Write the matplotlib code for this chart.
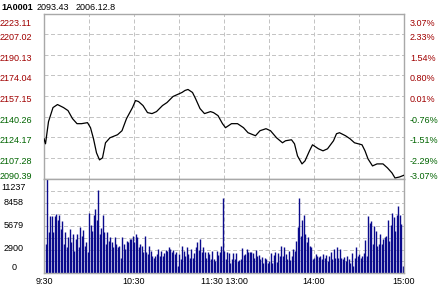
import numpy as np
import matplotlib
matplotlib.use('Agg')
import matplotlib.pyplot as plt
from matplotlib.transforms import blended_transform_factory, offset_copy

plt.rcParams['font.family'] = ['Liberation Sans', 'DejaVu Sans']

# header
code = '1A0001'
last_price = '2093.43'
date = '2006.12.8'
prev_close = 2156.90

# price axis labels (left) and percent labels (right)
price_levels = [2223.11, 2207.02, 2190.13, 2174.04, 2157.15, 2140.26, 2124.17, 2107.28, 2090.39]
pct_labels = ['3.07%', '2.33%', '1.54%', '0.80%', '0.01%', '-0.76%', '-1.51%', '-2.29%', '-3.07%']

# price line, trading minutes after 9:30 (120 = 11:30/13:00)
price_t = [0, 1, 3, 6, 9, 13, 16, 19, 22, 25,
           29, 31, 33, 35, 37, 39, 41, 44, 49, 52,
           55, 59, 61, 63, 66, 69, 72, 75, 79, 82,
           86, 89, 92, 94, 96, 99, 101, 104, 107, 111,
           113, 116, 119, 121, 125, 129, 133, 136, 141, 144,
           148, 151, 155, 159, 161, 165, 167, 169, 172, 174,
           177, 179, 183, 186, 189, 193, 195, 197, 201, 204,
           207, 212, 214, 216, 219, 222, 226, 229, 232, 234,
           237, 240]
price_v = [2122.76, 2118.71, 2136.52, 2147.85, 2150.28, 2147.85, 2145.42, 2138.95, 2134.90, 2134.90,
           2135.71, 2131.66, 2122.76, 2111.43, 2105.77, 2107.38, 2119.52, 2123.57, 2125.99, 2129.23,
           2138.95, 2147.85, 2153.51, 2152.70, 2149.47, 2143.80, 2142.99, 2144.61, 2149.47, 2151.89,
           2156.75, 2158.37, 2160.00, 2161.61, 2162.41, 2159.99, 2155.13, 2147.04, 2142.99, 2144.61,
           2143.80, 2141.37, 2134.90, 2131.66, 2134.90, 2134.90, 2131.66, 2127.62, 2125.19, 2129.23,
           2130.85, 2129.23, 2123.57, 2119.52, 2121.14, 2121.95, 2118.71, 2109.00, 2102.53, 2104.96,
           2113.05, 2117.90, 2114.67, 2113.05, 2114.67, 2121.14, 2126.81, 2127.62, 2125.19, 2122.76,
           2119.52, 2117.90, 2113.05, 2106.58, 2100.91, 2102.53, 2102.53, 2099.29, 2095.25, 2091.20,
           2092.01, 2093.43]

# volume per minute
vol_am = [3460, 11237, 4870, 6800, 6800, 4870, 6800, 7090, 6280, 6970,
          5280, 6160, 3460, 4950, 3060, 4270, 5280, 3660, 4670, 2660,
          4070, 4670, 3060, 5480, 4470, 5200, 3260, 3660, 2460, 7210,
          5680, 5080, 6970, 7690, 6280, 9910, 4670, 5360, 6970, 4870,
          3460, 4870, 3790, 4270, 3660, 3060, 4270, 3460, 3060, 3260,
          1850, 4270, 3460, 2860, 3870, 3660, 4070, 4070, 4470, 3660,
          4670, 4270, 3060, 3460, 3260, 2460, 4390, 2460, 2260, 3260,
          2660, 2050, 1850, 2050, 2260, 2860, 2050, 2660, 2050, 2380,
          2780, 2660, 3060, 2860, 2460, 2780, 2260, 2540, 850, 2260,
          1650, 3260, 2660, 2050, 3060, 2260, 1850, 2860, 1850, 2380,
          3060, 3660, 2780, 4070, 2460, 3060, 2460, 1850, 2460, 2260,
          1650, 2660, 1650, 1450, 2660, 2130, 2570, 3180, 8940]
vol_pm = [2660, 1650, 2540, 2380, 1250, 1650, 2380, 1650, 2380, 1450,
          1570, 1650, 2940, 2130, 2260, 2860, 2460, 2540, 2460, 2380,
          1850, 2780, 2050, 2130, 1730, 1970, 1250, 1850, 1650, 1250,
          1450, 2380, 1170, 2130, 2540, 1330, 2380, 2050, 3180, 2050,
          3060, 2260, 1650, 2660, 1570, 2050, 2860, 2660, 3870, 5480,
          8980, 4470, 6280, 6890, 4670, 3660, 4270, 3260, 3060, 1650,
          1850, 2260, 2050, 1970, 2050, 1650, 2260, 1850, 2130, 1450,
          2050, 2540, 1650, 2860, 1850, 3060, 1850, 2860, 1850, 1650,
          1970, 1450, 2050, 1730, 1250, 2380, 850, 1850, 3060, 2050,
          2260, 1850, 2050, 2380, 3990, 2050, 6800, 6000, 6160, 3460,
          5600, 5080, 3260, 3460, 4670, 3460, 4070, 4270, 4470, 6280,
          3870, 5760, 7210, 6690, 5080, 6890, 8000, 6970, 5880, 850]
vol_levels = [11237, 8458, 5679, 2900, 0]

time_pos = [0, 60, 120, 180, 240]
time_labels = ['9:30', '10:30', '11:30 13:00', '14:00', '15:00']

W, H = 446, 285
fig = plt.figure(figsize=(W / 100, H / 100), dpi=100)
fig.patch.set_facecolor('white')

def box(x0, y0, x1, y1):
    return [x0 / W, 1 - y1 / H, (x1 - x0) / W, (y1 - y0) / H]

ax_p = fig.add_axes(box(44, 14, 404, 179))
ax_v = fig.add_axes(box(44, 179, 404, 273))

grid_c = '#c4c4c4'
dash = (0, (4, 2.5))
fs = 6.5
red = '#a00000'
green = '#006400'

for ax in (ax_p, ax_v):
    ax.set_xlim(0, 240)
    ax.set_xticks([])
    ax.set_yticks([])
    for s in ax.spines.values():
        s.set_color('#a8a8a8')
        s.set_linewidth(1)
    for m in range(30, 240, 30):
        ax.axvline(m, color=grid_c, ls=dash, lw=0.72, zorder=0)

# price panel
ax_p.set_ylim(price_levels[-1], price_levels[0])
for lv in price_levels[1:-1]:
    ax_p.axhline(lv, color=grid_c, ls=dash, lw=0.72, zorder=0)
ax_p.plot(price_t, price_v, color='black', lw=0.9, zorder=3)

trans_l = blended_transform_factory(fig.transFigure, ax_p.transData)
n = len(price_levels)
for i, (lv, pc) in enumerate(zip(price_levels, pct_labels)):
    c = red if lv >= prev_close else green
    dy = -3
    if i == 0:
        dy = -10
    elif i == n - 1:
        dy = 2
    tr = offset_copy(trans_l, fig=fig, y=dy * 0.72, units='points')
    fig.text(16 / W, lv, f'{lv:.2f}', transform=tr, ha='center', va='center',
             fontsize=fs, color=c)
    fig.text(410 / W, lv, pc, transform=tr, ha='left', va='center',
             fontsize=fs, color=c)

# volume panel
vol = vol_am + vol_pm
ax_v.set_ylim(0, vol_levels[0])
for lv in np.linspace(0, vol_levels[0], 9)[1:-1]:
    ax_v.axhline(lv, color=grid_c, ls=dash, lw=0.72, zorder=0)
ax_v.vlines(np.arange(1, len(vol) + 1), 0, vol, color='#0a0a8c', lw=1.0,
            zorder=2, capstyle='butt')

trans_v = blended_transform_factory(fig.transFigure, ax_v.transData)
for i, lv in enumerate(vol_levels):
    dy = 0
    if i == 0:
        dy = -8
    elif i == len(vol_levels) - 1:
        dy = 5
    tr = offset_copy(trans_v, fig=fig, y=dy * 0.72, units='points')
    fig.text(14 / W, lv, str(lv), transform=tr, ha='center', va='center',
             fontsize=fs, color='black')

trans_t = blended_transform_factory(ax_v.transData, fig.transFigure)
for m, lab in zip(time_pos, time_labels):
    fig.text(m, 1 - 281 / H, lab, transform=trans_t, ha='center', va='center',
             fontsize=fs, color='black')

# header
fig.text(1 / W, 1 - 7 / H, code, fontsize=fs, fontweight='bold', va='center')
fig.text(37 / W, 1 - 7 / H, last_price, fontsize=fs, va='center')
fig.text(76 / W, 1 - 7 / H, date, fontsize=fs, va='center')

fig.savefig('out.png', dpi=100)
